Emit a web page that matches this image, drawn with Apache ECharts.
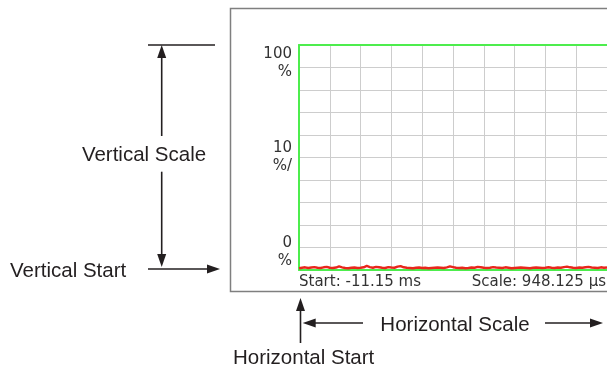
<!DOCTYPE html>
<html>
<head>
<meta charset="utf-8">
<script src="https://cdn.jsdelivr.net/npm/echarts@6/dist/echarts.min.js"></script>
<style>
html,body{margin:0;padding:0;background:#fff;}
#chart{width:607px;height:369px;}
</style>
</head>
<body>
<div id="chart"></div>
<script>
// Trace values (% occupancy) across the 10 horizontal divisions, 101 samples
var traceValues = [0.8,1.0,1.2,0.9,1.1,1.3,1.0,0.9,1.2,1.4,
  1.0,0.9,1.1,1.6,1.2,0.9,0.8,1.0,1.1,0.9,
  1.0,1.2,1.8,1.3,1.0,1.4,1.2,1.0,0.9,1.3,
  1.1,1.0,1.5,1.7,1.2,1.0,0.9,0.8,1.0,1.1,
  0.9,1.0,0.8,0.9,1.0,1.1,1.0,0.9,1.2,1.6,
  1.3,1.0,0.9,1.0,0.8,0.9,1.1,1.0,1.4,1.2,
  1.0,0.9,1.0,1.3,1.1,1.0,0.9,1.2,1.0,0.8,
  0.9,1.0,1.1,1.0,0.9,0.8,1.0,1.1,1.0,0.9,
  1.0,1.2,1.0,0.9,1.1,1.0,1.3,1.5,1.2,1.0,
  0.9,1.1,1.0,1.2,1.4,1.1,1.0,0.9,1.2,1.0,1.1];
var sampleIndex = traceValues.map(function(v,i){return String(i);});
var yTickLabels = {100:'100\n%', 50:'10\n%/', 0:'0\n%'};
var startLabel = 'Start: -11.15 ms';
var scaleLabel = 'Scale: 948.125 µs';

var GREEN = '#4ded4d', GRID = '#cdcdcd', INK = '#231f20', TXT = '#333';
var LBL = {fontFamily:'DejaVu Sans', fontSize:15, color:TXT, lineHeight:18, align:'right', margin:7};

function yAxisFor(val, valign, main){
  return {
    type:'value', min:0, max:100, interval:10, position:'left',
    axisLine:{show:main, lineStyle:{color:GREEN, width:2}},
    axisTick:{show:false},
    splitLine:{show:main, lineStyle:{color:GRID, width:1}},
    axisLabel:Object.assign({}, LBL, {verticalAlign:valign,
      formatter:function(v){return v===val ? yTickLabels[val] : '';}})
  };
}

var chart = echarts.init(document.getElementById('chart'), null, {renderer:'canvas'});
var arrowHead = function(tip, dir){
  var L=13, W=4.5, x=tip[0], y=tip[1], pts;
  if(dir==='up') pts=[[x,y],[x-W,y+L],[x+W,y+L]];
  else if(dir==='down') pts=[[x,y],[x-W,y-L],[x+W,y-L]];
  else if(dir==='right') pts=[[x,y],[x-L,y-W],[x-L,y+W]];
  else pts=[[x,y],[x+L,y-W],[x+L,y+W]];
  return {type:'polygon', shape:{points:pts}, style:{fill:INK}, silent:true};
};
var seg = function(x1,y1,x2,y2){
  return {type:'line', shape:{x1:x1,y1:y1,x2:x2,y2:y2}, style:{stroke:INK, lineWidth:1.6}, silent:true};
};
var ann = function(t,x,y,align){
  return {type:'text', x:x, y:y, style:{text:t, fill:INK, font:'20.5px "Liberation Sans", Arial, sans-serif', align:align||'left', verticalAlign:'middle'}, silent:true};
};

chart.setOption({
  animation:false,
  backgroundColor:'#fff',
  grid:{left:299, top:45, width:308, height:225, containLabel:false},
  xAxis:[{
    type:'category', data:sampleIndex, boundaryGap:false, position:'bottom',
    axisLine:{show:true, onZero:false, lineStyle:{color:GREEN, width:2}},
    axisTick:{show:false}, axisLabel:{show:false},
    splitLine:{show:true, interval:function(i){return i%10===0;}, lineStyle:{color:GRID, width:1}}
  },{
    type:'category', data:sampleIndex, boundaryGap:false, position:'top',
    axisLine:{show:true, onZero:false, lineStyle:{color:GREEN, width:2}},
    axisTick:{show:false}, axisLabel:{show:false}, splitLine:{show:false}
  }],
  yAxis:[yAxisFor(100,'top',true), yAxisFor(50,'middle',false), yAxisFor(0,'bottom',false)],
  series:[{
    type:'line', xAxisIndex:0, yAxisIndex:0, data:traceValues,
    showSymbol:false, lineStyle:{color:'#e8261c', width:2.4}, z:5
  }],
  graphic:[
    {type:'rect', shape:{x:230.5, y:8.5, width:400, height:283}, style:{fill:'none', stroke:'#7f7f7f', lineWidth:1.5}, silent:true, z:-1},
    {type:'text', x:299, y:282, style:{text:startLabel, fill:TXT, font:'15px "DejaVu Sans", sans-serif', align:'left', verticalAlign:'middle'}, silent:true},
    {type:'text', x:606, y:282, style:{text:scaleLabel, fill:TXT, font:'15px "DejaVu Sans", sans-serif', align:'right', verticalAlign:'middle'}, silent:true},
    // Vertical scale annotation
    seg(148,45,215,45),
    seg(161.7,52,161.7,136),
    arrowHead([161.7,45],'up'),
    seg(161.7,171.7,161.7,260),
    arrowHead([161.7,267],'down'),
    ann('Vertical Scale',144,155,'center'),
    // Vertical start
    seg(148,269,213,269),
    arrowHead([220,269],'right'),
    ann('Vertical Start',10,271,'left'),
    // Horizontal start
    seg(300.5,305,300.5,343),
    arrowHead([300.5,298],'up'),
    ann('Horizontal Start',233,358,'left'),
    // Horizontal scale
    seg(309,323,363,323),
    arrowHead([302.7,323],'left'),
    seg(545,323,596,323),
    arrowHead([603,323],'right'),
    ann('Horizontal Scale',455,325,'center')
  ]
});
</script>
</body>
</html>
